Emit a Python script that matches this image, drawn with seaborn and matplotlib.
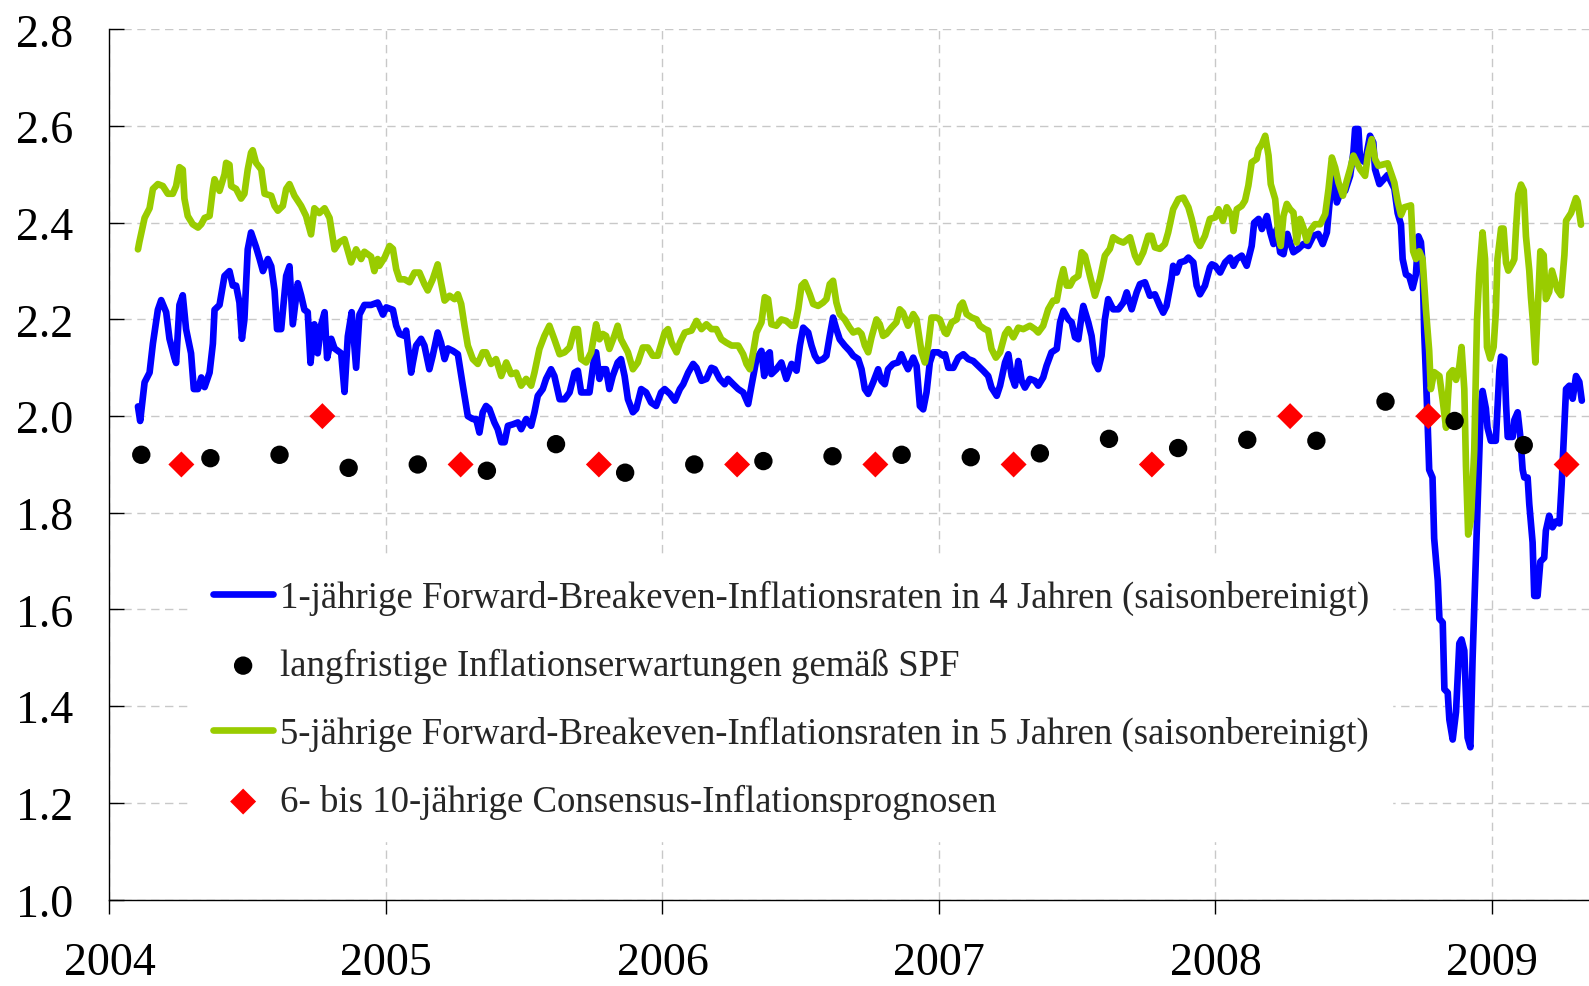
import pandas as pd
import seaborn as sns
import matplotlib.pyplot as plt

blue_2004 = [(2004.103, 2.02), (2004.111, 1.99), (2004.127, 2.07), (2004.145, 2.09), (2004.157, 2.15),
             (2004.175, 2.22), (2004.187, 2.24), (2004.205, 2.215), (2004.217, 2.16), (2004.235, 2.12),
             (2004.241, 2.11), (2004.253, 2.23), (2004.265, 2.25), (2004.277, 2.18), (2004.295, 2.13),
             (2004.305, 2.056), (2004.320, 2.056), (2004.332, 2.08), (2004.344, 2.06), (2004.362, 2.09),
             (2004.374, 2.15), (2004.380, 2.22), (2004.398, 2.23), (2004.416, 2.29), (2004.434, 2.30),
             (2004.446, 2.27), (2004.458, 2.27), (2004.470, 2.235), (2004.479, 2.16), (2004.488, 2.20),
             (2004.500, 2.345), (2004.512, 2.38), (2004.530, 2.35), (2004.543, 2.325), (2004.555, 2.30),
             (2004.573, 2.325), (2004.585, 2.31), (2004.597, 2.26), (2004.606, 2.18), (2004.621, 2.18),
             (2004.639, 2.29), (2004.651, 2.31), (2004.663, 2.19), (2004.681, 2.275), (2004.693, 2.25),
             (2004.705, 2.22), (2004.717, 2.215), (2004.727, 2.11), (2004.741, 2.19), (2004.753, 2.13),
             (2004.766, 2.19), (2004.778, 2.215), (2004.787, 2.12), (2004.802, 2.16), (2004.814, 2.14),
             (2004.838, 2.13), (2004.850, 2.05), (2004.862, 2.165), (2004.876, 2.215), (2004.892, 2.10),
             (2004.904, 2.21), (2004.922, 2.23), (2004.946, 2.23), (2004.970, 2.235)]
blue_2005 = [(2004.976, 2.228), (2004.989, 2.21), (2005.001, 2.225), (2005.025, 2.22), (2005.037, 2.187),
             (2005.049, 2.17), (2005.067, 2.166), (2005.073, 2.177), (2005.091, 2.09), (2005.097, 2.11),
             (2005.109, 2.146), (2005.127, 2.16), (2005.139, 2.146), (2005.157, 2.097), (2005.169, 2.125),
             (2005.187, 2.173), (2005.199, 2.152), (2005.212, 2.118), (2005.224, 2.14), (2005.242, 2.135),
             (2005.260, 2.128), (2005.278, 2.063), (2005.296, 2.00), (2005.314, 1.994), (2005.326, 1.994),
             (2005.338, 1.966), (2005.350, 2.008), (2005.362, 2.021), (2005.374, 2.015), (2005.392, 1.987),
             (2005.404, 1.973), (2005.417, 1.946), (2005.429, 1.946), (2005.441, 1.98), (2005.459, 1.983),
             (2005.477, 1.987), (2005.489, 1.973), (2005.507, 1.994), (2005.525, 1.98), (2005.537, 2.008),
             (2005.549, 2.042), (2005.567, 2.056), (2005.579, 2.077), (2005.597, 2.097), (2005.609, 2.083),
             (2005.628, 2.035), (2005.646, 2.035), (2005.664, 2.049), (2005.682, 2.09), (2005.694, 2.094),
             (2005.706, 2.049), (2005.724, 2.049), (2005.736, 2.049), (2005.754, 2.125), (2005.760, 2.132),
             (2005.772, 2.077), (2005.784, 2.097), (2005.796, 2.097), (2005.808, 2.056), (2005.820, 2.083),
             (2005.838, 2.111), (2005.850, 2.118), (2005.863, 2.083), (2005.875, 2.035), (2005.893, 2.008),
             (2005.905, 2.015), (2005.923, 2.056), (2005.941, 2.049), (2005.959, 2.028), (2005.977, 2.021),
             (2005.995, 2.049)]
blue_2006 = [(2006.008, 2.056), (2006.027, 2.046), (2006.045, 2.032), (2006.063, 2.056), (2006.075, 2.066),
             (2006.093, 2.09), (2006.111, 2.108), (2006.123, 2.10), (2006.141, 2.073), (2006.159, 2.077),
             (2006.177, 2.10), (2006.189, 2.097), (2006.207, 2.077), (2006.225, 2.066), (2006.237, 2.077),
             (2006.256, 2.066), (2006.274, 2.056), (2006.292, 2.049), (2006.310, 2.025), (2006.322, 2.063),
             (2006.340, 2.118), (2006.358, 2.135), (2006.368, 2.083), (2006.376, 2.125), (2006.388, 2.132),
             (2006.394, 2.087), (2006.412, 2.097), (2006.430, 2.111), (2006.448, 2.077), (2006.467, 2.108),
             (2006.485, 2.094), (2006.497, 2.146), (2006.509, 2.183), (2006.527, 2.173), (2006.539, 2.146),
             (2006.551, 2.125), (2006.563, 2.114), (2006.581, 2.118), (2006.593, 2.125), (2006.605, 2.166),
             (2006.617, 2.204), (2006.629, 2.18), (2006.641, 2.159), (2006.659, 2.146), (2006.677, 2.135),
             (2006.690, 2.125), (2006.708, 2.118), (2006.720, 2.097), (2006.732, 2.056), (2006.744, 2.046),
             (2006.762, 2.07), (2006.780, 2.097), (2006.792, 2.073), (2006.804, 2.066), (2006.816, 2.097),
             (2006.834, 2.108), (2006.852, 2.111), (2006.864, 2.128), (2006.876, 2.111), (2006.888, 2.097),
             (2006.907, 2.121), (2006.919, 2.104), (2006.931, 2.021), (2006.943, 2.014), (2006.955, 2.049),
             (2006.967, 2.111), (2006.979, 2.132), (2006.997, 2.132), (2007.015, 2.125)]
blue_2007 = [(2007.022, 2.128), (2007.034, 2.10), (2007.052, 2.10), (2007.070, 2.121), (2007.088, 2.128),
             (2007.106, 2.118), (2007.124, 2.114), (2007.142, 2.104), (2007.160, 2.094), (2007.178, 2.083),
             (2007.190, 2.059), (2007.209, 2.042), (2007.221, 2.063), (2007.239, 2.111), (2007.251, 2.128),
             (2007.263, 2.083), (2007.275, 2.063), (2007.287, 2.114), (2007.299, 2.073), (2007.311, 2.059),
             (2007.329, 2.077), (2007.347, 2.073), (2007.359, 2.063), (2007.377, 2.08), (2007.389, 2.104),
             (2007.407, 2.132), (2007.426, 2.139), (2007.438, 2.194), (2007.450, 2.218), (2007.468, 2.20),
             (2007.480, 2.194), (2007.492, 2.163), (2007.504, 2.159), (2007.516, 2.208), (2007.522, 2.228),
             (2007.540, 2.194), (2007.552, 2.166), (2007.564, 2.111), (2007.576, 2.097), (2007.588, 2.125),
             (2007.600, 2.20), (2007.612, 2.242), (2007.630, 2.221), (2007.649, 2.221), (2007.667, 2.235),
             (2007.679, 2.256), (2007.697, 2.221), (2007.715, 2.256), (2007.727, 2.273), (2007.745, 2.277),
             (2007.763, 2.249), (2007.781, 2.252), (2007.799, 2.228), (2007.811, 2.214), (2007.823, 2.228),
             (2007.841, 2.283), (2007.847, 2.311), (2007.860, 2.297), (2007.872, 2.318), (2007.890, 2.321),
             (2007.902, 2.328), (2007.920, 2.318), (2007.932, 2.27), (2007.944, 2.252), (2007.962, 2.27),
             (2007.980, 2.308)]
blue_2008 = [(2007.987, 2.314), (2007.999, 2.311), (2008.017, 2.297), (2008.035, 2.318), (2008.053, 2.328),
             (2008.065, 2.311), (2008.077, 2.325), (2008.095, 2.332), (2008.113, 2.311), (2008.131, 2.352),
             (2008.140, 2.40), (2008.156, 2.408), (2008.168, 2.387), (2008.186, 2.414), (2008.198, 2.38),
             (2008.210, 2.356), (2008.222, 2.387), (2008.234, 2.339), (2008.246, 2.335), (2008.260, 2.377),
             (2008.270, 2.359), (2008.282, 2.339), (2008.300, 2.346), (2008.318, 2.356), (2008.336, 2.352),
             (2008.354, 2.373), (2008.372, 2.377), (2008.388, 2.356), (2008.403, 2.38), (2008.415, 2.456),
             (2008.427, 2.497), (2008.439, 2.442), (2008.457, 2.47), (2008.469, 2.466), (2008.487, 2.497),
             (2008.499, 2.546), (2008.505, 2.594), (2008.517, 2.594), (2008.523, 2.532), (2008.541, 2.525),
             (2008.559, 2.58), (2008.571, 2.566), (2008.577, 2.511), (2008.593, 2.48), (2008.623, 2.499),
             (2008.647, 2.471), (2008.659, 2.42), (2008.671, 2.396), (2008.677, 2.325), (2008.689, 2.293),
             (2008.701, 2.289), (2008.713, 2.265), (2008.725, 2.293), (2008.734, 2.372), (2008.743, 2.36),
             (2008.749, 2.317), (2008.755, 2.174), (2008.761, 2.087), (2008.767, 1.992), (2008.773, 1.889),
             (2008.785, 1.873), (2008.791, 1.747), (2008.804, 1.66), (2008.810, 1.581), (2008.822, 1.573),
             (2008.828, 1.435), (2008.840, 1.428), (2008.846, 1.372), (2008.858, 1.331), (2008.870, 1.388),
             (2008.882, 1.53), (2008.890, 1.538), (2008.900, 1.515), (2008.906, 1.42), (2008.912, 1.335),
             (2008.922, 1.315), (2008.930, 1.499), (2008.936, 1.604), (2008.948, 1.818), (2008.960, 2.024),
             (2008.966, 2.052), (2008.978, 2.016), (2008.984, 1.976), (2008.996, 1.949)]
blue_2009 = [(2009.014, 1.949), (2009.027, 2.095), (2009.033, 2.123), (2009.045, 2.119), (2009.051, 2.024),
             (2009.057, 1.957), (2009.075, 1.957), (2009.081, 1.992), (2009.093, 2.008), (2009.102, 1.961),
             (2009.111, 1.889), (2009.117, 1.873), (2009.129, 1.873), (2009.135, 1.818), (2009.147, 1.739),
             (2009.153, 1.628), (2009.165, 1.628), (2009.175, 1.699), (2009.189, 1.707), (2009.195, 1.763),
             (2009.207, 1.794), (2009.219, 1.77), (2009.231, 1.782), (2009.244, 1.778), (2009.252, 1.858),
             (2009.262, 1.984), (2009.268, 2.056), (2009.280, 2.063), (2009.292, 2.036), (2009.304, 2.083),
             (2009.316, 2.071), (2009.325, 2.032)]

green_2004 = [(2004.103, 2.345), (2004.108, 2.36), (2004.127, 2.41), (2004.145, 2.43), (2004.157, 2.47),
              (2004.175, 2.48), (2004.193, 2.476), (2004.211, 2.46), (2004.229, 2.46), (2004.241, 2.476),
              (2004.253, 2.515), (2004.265, 2.51), (2004.271, 2.45), (2004.283, 2.414), (2004.301, 2.397),
              (2004.320, 2.39), (2004.332, 2.397), (2004.344, 2.41), (2004.362, 2.414), (2004.374, 2.47),
              (2004.380, 2.49), (2004.398, 2.466), (2004.416, 2.50), (2004.422, 2.524), (2004.434, 2.52),
              (2004.440, 2.476), (2004.458, 2.47), (2004.476, 2.45), (2004.488, 2.46), (2004.500, 2.51),
              (2004.512, 2.545), (2004.518, 2.55), (2004.530, 2.524), (2004.549, 2.51), (2004.561, 2.46),
              (2004.585, 2.456), (2004.597, 2.435), (2004.609, 2.425), (2004.627, 2.435), (2004.639, 2.47),
              (2004.651, 2.48), (2004.669, 2.456), (2004.693, 2.435), (2004.711, 2.414), (2004.729, 2.376),
              (2004.741, 2.43), (2004.759, 2.42), (2004.778, 2.43), (2004.796, 2.41), (2004.814, 2.345),
              (2004.832, 2.36), (2004.850, 2.366), (2004.874, 2.318), (2004.892, 2.345), (2004.910, 2.325),
              (2004.922, 2.34), (2004.946, 2.33), (2004.958, 2.30), (2004.970, 2.325)]
green_2005 = [(2004.976, 2.311), (2004.995, 2.328), (2005.013, 2.352), (2005.025, 2.346), (2005.037, 2.304),
              (2005.049, 2.283), (2005.067, 2.283), (2005.085, 2.277), (2005.103, 2.297), (2005.121, 2.297),
              (2005.139, 2.273), (2005.151, 2.26), (2005.169, 2.283), (2005.187, 2.314), (2005.199, 2.277),
              (2005.212, 2.239), (2005.230, 2.249), (2005.248, 2.242), (2005.260, 2.252), (2005.272, 2.232),
              (2005.284, 2.187), (2005.296, 2.146), (2005.314, 2.118), (2005.332, 2.108), (2005.350, 2.132),
              (2005.362, 2.132), (2005.380, 2.108), (2005.398, 2.118), (2005.417, 2.083), (2005.435, 2.111),
              (2005.453, 2.087), (2005.471, 2.09), (2005.489, 2.063), (2005.507, 2.077), (2005.525, 2.063),
              (2005.537, 2.09), (2005.555, 2.139), (2005.573, 2.166), (2005.591, 2.187), (2005.609, 2.159),
              (2005.628, 2.128), (2005.646, 2.132), (2005.664, 2.142), (2005.682, 2.18), (2005.694, 2.18),
              (2005.706, 2.118), (2005.724, 2.111), (2005.742, 2.132), (2005.760, 2.19), (2005.772, 2.159),
              (2005.784, 2.17), (2005.796, 2.166), (2005.808, 2.139), (2005.826, 2.166), (2005.838, 2.187),
              (2005.850, 2.159), (2005.875, 2.132), (2005.893, 2.097), (2005.911, 2.111), (2005.929, 2.142),
              (2005.947, 2.142), (2005.965, 2.125), (2005.983, 2.125)]
green_2006 = [(2006.008, 2.173), (2006.020, 2.18), (2006.033, 2.152), (2006.051, 2.132), (2006.063, 2.152),
              (2006.081, 2.173), (2006.105, 2.177), (2006.123, 2.197), (2006.141, 2.18), (2006.159, 2.19),
              (2006.177, 2.18), (2006.195, 2.18), (2006.213, 2.159), (2006.231, 2.152), (2006.250, 2.146),
              (2006.274, 2.146), (2006.292, 2.128), (2006.304, 2.108), (2006.316, 2.097), (2006.328, 2.132),
              (2006.340, 2.173), (2006.358, 2.194), (2006.370, 2.246), (2006.382, 2.242), (2006.394, 2.19),
              (2006.412, 2.187), (2006.430, 2.20), (2006.448, 2.197), (2006.467, 2.187), (2006.479, 2.187),
              (2006.491, 2.221), (2006.503, 2.27), (2006.515, 2.277), (2006.533, 2.252), (2006.545, 2.232),
              (2006.563, 2.228), (2006.581, 2.235), (2006.593, 2.242), (2006.605, 2.273), (2006.617, 2.28),
              (2006.629, 2.235), (2006.641, 2.211), (2006.659, 2.20), (2006.677, 2.183), (2006.690, 2.173),
              (2006.708, 2.177), (2006.720, 2.17), (2006.732, 2.146), (2006.744, 2.132), (2006.756, 2.163),
              (2006.774, 2.20), (2006.786, 2.19), (2006.798, 2.166), (2006.810, 2.17), (2006.828, 2.183),
              (2006.846, 2.194), (2006.858, 2.221), (2006.870, 2.214), (2006.888, 2.187), (2006.907, 2.211),
              (2006.919, 2.20), (2006.937, 2.132), (2006.949, 2.111), (2006.961, 2.146), (2006.973, 2.204),
              (2006.991, 2.204), (2007.003, 2.20), (2007.021, 2.173)]
green_2007 = [(2007.028, 2.17), (2007.046, 2.194), (2007.064, 2.20), (2007.076, 2.228), (2007.086, 2.235),
              (2007.100, 2.211), (2007.118, 2.204), (2007.136, 2.20), (2007.148, 2.187), (2007.166, 2.18),
              (2007.178, 2.177), (2007.190, 2.139), (2007.206, 2.121), (2007.221, 2.132), (2007.239, 2.17),
              (2007.251, 2.18), (2007.269, 2.163), (2007.287, 2.183), (2007.305, 2.18), (2007.329, 2.187),
              (2007.347, 2.18), (2007.359, 2.173), (2007.377, 2.187), (2007.395, 2.221), (2007.413, 2.239),
              (2007.426, 2.239), (2007.438, 2.277), (2007.450, 2.304), (2007.462, 2.27), (2007.474, 2.27),
              (2007.486, 2.283), (2007.504, 2.29), (2007.516, 2.339), (2007.528, 2.332), (2007.546, 2.29),
              (2007.564, 2.249), (2007.582, 2.283), (2007.600, 2.332), (2007.618, 2.346), (2007.630, 2.37),
              (2007.649, 2.363), (2007.667, 2.359), (2007.691, 2.37), (2007.709, 2.332), (2007.721, 2.318),
              (2007.739, 2.339), (2007.757, 2.373), (2007.769, 2.373), (2007.781, 2.349), (2007.799, 2.346),
              (2007.817, 2.356), (2007.829, 2.38), (2007.847, 2.428), (2007.866, 2.449), (2007.884, 2.452),
              (2007.902, 2.432), (2007.914, 2.408), (2007.932, 2.363), (2007.944, 2.352), (2007.962, 2.373),
              (2007.980, 2.408)]
green_2008 = [(2007.999, 2.411), (2008.011, 2.428), (2008.027, 2.404), (2008.041, 2.432), (2008.059, 2.414),
              (2008.065, 2.383), (2008.077, 2.428), (2008.095, 2.435), (2008.107, 2.446), (2008.119, 2.477),
              (2008.131, 2.525), (2008.149, 2.532), (2008.156, 2.552), (2008.168, 2.563), (2008.180, 2.58),
              (2008.192, 2.539), (2008.200, 2.48), (2008.216, 2.449), (2008.228, 2.373), (2008.236, 2.352),
              (2008.246, 2.414), (2008.258, 2.439), (2008.270, 2.428), (2008.282, 2.421), (2008.294, 2.359),
              (2008.306, 2.408), (2008.318, 2.39), (2008.330, 2.363), (2008.342, 2.383), (2008.360, 2.397),
              (2008.379, 2.397), (2008.397, 2.418), (2008.409, 2.47), (2008.421, 2.535), (2008.433, 2.514),
              (2008.445, 2.483), (2008.461, 2.456), (2008.475, 2.487), (2008.487, 2.511), (2008.499, 2.539),
              (2008.511, 2.525), (2008.523, 2.511), (2008.541, 2.497), (2008.553, 2.546), (2008.565, 2.573),
              (2008.577, 2.532), (2008.589, 2.518), (2008.623, 2.523), (2008.647, 2.483), (2008.659, 2.444),
              (2008.671, 2.416), (2008.683, 2.432), (2008.707, 2.436), (2008.715, 2.341), (2008.725, 2.325),
              (2008.737, 2.341), (2008.749, 2.325), (2008.761, 2.222), (2008.773, 2.135), (2008.779, 2.056),
              (2008.791, 2.091), (2008.810, 2.083), (2008.822, 2.032), (2008.834, 1.976), (2008.846, 2.087),
              (2008.858, 2.095), (2008.870, 2.075), (2008.882, 2.103), (2008.890, 2.143), (2008.900, 2.056),
              (2008.906, 1.897), (2008.914, 1.755), (2008.924, 1.786), (2008.936, 1.929), (2008.946, 2.198),
              (2008.954, 2.293), (2008.966, 2.38), (2008.975, 2.325), (2008.982, 2.143), (2008.994, 2.119)]
green_2009 = [(2009.006, 2.143), (2009.014, 2.214), (2009.020, 2.325), (2009.033, 2.388), (2009.042, 2.388),
              (2009.051, 2.317), (2009.059, 2.301), (2009.075, 2.317), (2009.081, 2.325), (2009.087, 2.388),
              (2009.095, 2.459), (2009.105, 2.479), (2009.115, 2.467), (2009.123, 2.372), (2009.135, 2.301),
              (2009.141, 2.246), (2009.149, 2.19), (2009.157, 2.111), (2009.165, 2.214), (2009.175, 2.341),
              (2009.187, 2.333), (2009.195, 2.242), (2009.207, 2.257), (2009.217, 2.301), (2009.225, 2.285),
              (2009.237, 2.261), (2009.250, 2.25), (2009.262, 2.333), (2009.268, 2.404), (2009.286, 2.42),
              (2009.304, 2.451), (2009.310, 2.444), (2009.322, 2.396)]

spf_dates = [2004.115, 2004.365, 2004.615, 2004.865, 2005.115, 2005.365, 2005.615, 2005.865,
             2006.115, 2006.365, 2006.615, 2006.865, 2007.115, 2007.365, 2007.615, 2007.865,
             2008.115, 2008.365, 2008.615, 2008.865, 2009.115]
spf_values = [1.92, 1.913, 1.92, 1.893, 1.90, 1.887, 1.942, 1.883, 1.90, 1.907, 1.917,
              1.92, 1.915, 1.923, 1.953, 1.934, 1.951, 1.949, 2.03, 1.99, 1.94]

cons_dates = [2004.26, 2004.77, 2005.27, 2005.77, 2006.27, 2006.77, 2007.27, 2007.77,
              2008.27, 2008.77, 2009.27]
cons_values = [1.9, 2.0, 1.9, 1.9, 1.9, 1.9, 1.9, 1.9, 2.0, 2.0, 1.9]

labels = ["1-jährige Forward-Breakeven-Inflationsraten in 4 Jahren (saisonbereinigt)",
          "langfristige Inflationserwartungen gemäß SPF",
          "5-jährige Forward-Breakeven-Inflationsraten in 5 Jahren (saisonbereinigt)",
          "6- bis 10-jährige Consensus-Inflationsprognosen"]

blue = pd.DataFrame(blue_2004 + blue_2005 + blue_2006 + blue_2007 + blue_2008 + blue_2009,
                    columns=["jahr", "wert"])
green = pd.DataFrame(green_2004 + green_2005 + green_2006 + green_2007 + green_2008 + green_2009,
                     columns=["jahr", "wert"])

sns.set_style("white")
plt.rcParams["font.family"] = ["Liberation Serif", "DejaVu Serif"]

fig = plt.figure(figsize=(15.89, 9.87), dpi=100)
ax = fig.add_axes([0.0689, 0.0876, 0.9311, 0.8816])

sns.lineplot(data=blue, x="jahr", y="wert", color="#0000FF", linewidth=4.8,
             estimator=None, label=labels[0], ax=ax, zorder=3)
sns.lineplot(data=green, x="jahr", y="wert", color="#99CC00", linewidth=4.8,
             estimator=None, label=labels[2], ax=ax, zorder=3)
sns.scatterplot(x=spf_dates, y=spf_values, color="black", marker="o", s=175,
                edgecolor="none", label=labels[1], ax=ax, zorder=4)
sns.scatterplot(x=cons_dates, y=cons_values, color="#FF0000", marker="D", s=175,
                edgecolor="none", label=labels[3], ax=ax, zorder=4)

ax.set_xlim(2004, 2009.351)
ax.set_ylim(1.0, 2.8)
ax.set_xticks([2004, 2005, 2006, 2007, 2008, 2009])
ax.set_xticklabels(["2004", "2005", "2006", "2007", "2008", "2009"])
ax.set_yticks([1.0, 1.2, 1.4, 1.6, 1.8, 2.0, 2.2, 2.4, 2.6, 2.8])
ax.set_yticklabels(["1.0", "1.2", "1.4", "1.6", "1.8", "2.0", "2.2", "2.4", "2.6", "2.8"])
ax.set_xlabel("")
ax.set_ylabel("")

ax.grid(True, color="#c8c8c8", linestyle=(0, (6, 4)), linewidth=1)
ax.set_axisbelow(True)
for side in ["top", "right"]:
    ax.spines[side].set_visible(False)
for side in ["left", "bottom"]:
    ax.spines[side].set_color("black")
    ax.spines[side].set_linewidth(1)

ax.tick_params(axis="y", direction="in", length=10.5, width=1, pad=26, labelsize=33,
               left=True, colors="black")
ax.tick_params(axis="x", direction="out", length=10, width=1, pad=20, labelsize=33,
               bottom=True, colors="black")

handles, labs = ax.get_legend_handles_labels()
order = [labs.index(l) for l in labels]
leg = ax.legend([handles[i] for i in order], labels, loc="upper left",
                bbox_to_anchor=(0.1200, 0.4336), bbox_transform=fig.transFigure,
                fontsize=26.5, frameon=True, facecolor="white", edgecolor="white",
                framealpha=1, fancybox=False, borderpad=0.6, borderaxespad=0,
                handlelength=1.65, handletextpad=0.19, labelspacing=0.89)
leg.set_zorder(5)

fig.savefig("out.png", dpi=100)
